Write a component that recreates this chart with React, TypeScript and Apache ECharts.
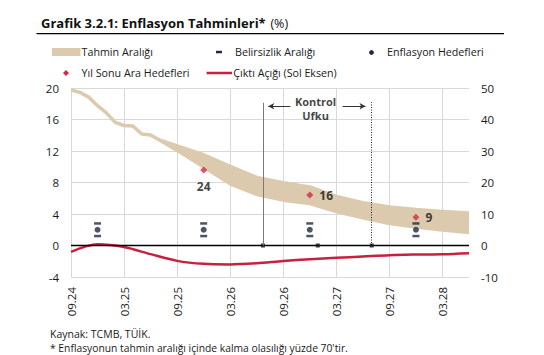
import React, { useEffect, useRef } from 'react';
import * as echarts from 'echarts';

// ---- data ----
const xTickLabels = ['09.24', '03.25', '09.25', '03.26', '09.26', '03.27', '09.27', '03.28'];

// months since 09.24 ; inflation forecast band (right axis, %)
const bandMonths = [0, 1, 2, 3, 4, 5, 6, 7, 8, 9, 10, 12, 15, 18, 21, 24, 27, 30, 33, 36, 39, 42, 45];
const bandLow = [49.4, 48.6, 47.1, 44.4, 42.1, 39.1, 38.1, 37.9, 35.4, 35.1, 33.5, 30.2, 24.9, 19.6, 16.2, 14.4, 13.3, 10.8, 8.8, 7.0, 5.9, 4.9, 4.1];
const bandHigh = [49.4, 48.6, 47.1, 44.4, 42.1, 39.1, 38.1, 37.9, 35.4, 35.1, 33.5, 31.6, 28.8, 25.1, 21.6, 19.9, 18.6, 15.6, 13.6, 12.2, 11.4, 10.8, 10.3];

// output gap (left axis)
const gapMonths = [0, 3, 6, 9, 12, 15, 18, 21, 24, 27, 30, 33, 36, 39, 42, 45];
const gapValues = [-0.8, 0.15, -0.2, -1.1, -1.95, -2.33, -2.4, -2.25, -1.97, -1.75, -1.57, -1.4, -1.23, -1.15, -1.1, -0.97];

// inflation targets with uncertainty range
const targetMonths = [3, 15, 27, 39];
const targetValues = [5, 5, 5, 5];
const uncertaintyLow = [3, 3, 3, 3];
const uncertaintyHigh = [7, 7, 7, 7];

// year-end interim targets
const interimMonths = [15, 27, 39];
const interimValues = [24, 16, 9];

// control horizon (start, middle, end) in months
const controlMonths = [21.7, 27.9, 34];

const FONT = "'Open Sans', sans-serif";
const TAN = '#dccaae';
const RED = '#c8203e';
const DRED = '#d22a40';
const NAVY = '#1e2b45';
const GRID = '#d9d9d9';
const TXT = '#1a1a1a';

export default function App() {
  const ref = useRef<HTMLDivElement>(null);
  useEffect(() => {
    if (!ref.current) return;
    const chart = echarts.init(ref.current, undefined, { renderer: 'svg' });
    const legendText = (text: string, x: number, y: number) => ({
      type: 'text', x, y,
      style: { text, fontSize: 10.7, fontFamily: FONT, fill: TXT, verticalAlign: 'middle', align: 'left' },
    });
    const option: any = {
      animation: false,
      textStyle: { fontFamily: FONT },
      title: {
        left: 36, top: 9,
        text: '{b|Grafik 3.2.1: Enflasyon Tahminleri*} {n|(%)}',
        textStyle: {
          fontWeight: 'normal',
          rich: {
            b: { fontSize: 13, fontWeight: 'bold', color: '#111', fontFamily: FONT },
            n: { fontSize: 12.5, fontWeight: 'normal', color: '#111', fontFamily: FONT },
          },
        },
      },
      grid: { left: 71, right: 75, top: 88, bottom: 78, containLabel: false },
      xAxis: {
        type: 'value', min: 0, max: 45, interval: 6,
        axisLine: { show: false }, axisTick: { show: false },
        splitLine: { show: true, showMaxLine: false, lineStyle: { color: GRID, width: 1 } },
        axisLabel: {
          rotate: 90, margin: 10, fontSize: 11.5, color: TXT, fontFamily: FONT,
          showMaxLabel: false,
          formatter: (v: number) => xTickLabels[Math.round(v / 6)] ?? '',
        },
      },
      yAxis: [
        {
          type: 'value', min: -4, max: 20, interval: 4,
          axisLine: { show: false }, axisTick: { show: false },
          splitLine: { show: true, lineStyle: { color: GRID, width: 1 } },
          axisLabel: { margin: 12, fontSize: 11.5, color: TXT, fontFamily: FONT },
        },
        {
          type: 'value', min: -10, max: 50, interval: 10,
          axisLine: { show: false }, axisTick: { show: false },
          splitLine: { show: false },
          axisLabel: { margin: 12, fontSize: 11.5, color: TXT, fontFamily: FONT },
        },
      ],
      series: [
        {
          name: 'Tahmin Aralığı', type: 'custom', yAxisIndex: 1, z: 2, clip: true,
          encode: { x: 0, y: [1, 2] },
          data: bandMonths.map((m, i) => [m, bandLow[i], bandHigh[i]]),
          renderItem: (params: any, api: any) => {
            if (params.dataIndex !== 0) return null;
            const upper = bandMonths.map((m, i) => api.coord([m, bandHigh[i]]));
            const lower = bandMonths.map((m, i) => api.coord([m, bandLow[i]])).reverse();
            return {
              type: 'polygon',
              shape: { points: upper.concat(lower) },
              style: { fill: TAN, stroke: TAN, lineWidth: 3.5, lineJoin: 'round' },
            };
          },
        },
        {
          name: 'Çıktı Açığı (Sol Eksen)', type: 'line', yAxisIndex: 0, symbol: 'none', smooth: 0.3, z: 3,
          data: gapMonths.map((m, i) => [m, gapValues[i]]),
          lineStyle: { color: RED, width: 2.5 }, itemStyle: { color: RED },
          markLine: {
            silent: true, symbol: ['none', 'none'], label: { show: false },
            lineStyle: { color: '#000', width: 1.3, type: 'solid' },
            data: [{ yAxis: 0 }],
          },
        },
        {
          name: 'Belirsizlik Aralığı', type: 'scatter', yAxisIndex: 1, symbol: 'rect', symbolSize: [7, 2.5], z: 4,
          itemStyle: { color: NAVY },
          data: [
            ...targetMonths.map((m, i) => [m, uncertaintyLow[i]]),
            ...targetMonths.map((m, i) => [m, uncertaintyHigh[i]]),
          ],
        },
        {
          name: 'Enflasyon Hedefleri', type: 'scatter', yAxisIndex: 1, symbol: 'circle', symbolSize: 6, z: 4,
          itemStyle: { color: NAVY },
          data: targetMonths.map((m, i) => [m, targetValues[i]]),
        },
        {
          name: 'Yıl Sonu Ara Hedefleri', type: 'scatter', yAxisIndex: 1, symbol: 'diamond', symbolSize: 7, z: 4,
          itemStyle: { color: DRED },
          label: {
            show: true, fontSize: 12, fontWeight: 'bold', color: '#111', fontFamily: FONT,
            formatter: (p: any) => String(p.value[1]),
          },
          data: interimMonths.map((m, i) => ({
            value: [m, interimValues[i]],
            label: i === 0 ? { position: 'bottom', distance: 7 } : { position: 'right', distance: 6 },
          })),
        },
        {
          name: 'controlDots', type: 'scatter', yAxisIndex: 1, symbol: 'rect', symbolSize: 4, z: 5,
          itemStyle: { color: '#111' },
          data: controlMonths.map((m) => [m, 0]),
        },
        {
          name: 'controlLabel', type: 'scatter', yAxisIndex: 1, symbolSize: 1, z: 5,
          itemStyle: { color: 'rgba(0,0,0,0)' },
          label: {
            show: true, position: 'inside', formatter: 'Kontrol\nUfku',
            fontSize: 11, fontWeight: 'bold', lineHeight: 14.3, color: '#111', fontFamily: FONT,
          },
          data: [[(controlMonths[0] + controlMonths[2]) / 2 - 0.2, 43.5]],
          markLine: {
            silent: true, z: 6, label: { show: false }, symbol: ['none', 'none'],
            data: [
              [
                { coord: [controlMonths[0], 0], lineStyle: { color: '#7a7a7a', width: 1, type: 'solid' } },
                { coord: [controlMonths[0], 45.3] },
              ],
              [
                { coord: [controlMonths[2], 0], lineStyle: { color: '#222', width: 1, type: [1, 1.5] } },
                { coord: [controlMonths[2], 45.5] },
              ],
              [
                { coord: [24.8, 44.2], symbol: 'none', lineStyle: { color: '#333', width: 1, type: 'solid' } },
                { coord: [22.3, 44.2], symbol: 'arrow', symbolSize: [5, 6] },
              ],
              [
                { coord: [30.7, 44.2], symbol: 'none', lineStyle: { color: '#333', width: 1, type: 'solid' } },
                { coord: [33.3, 44.2], symbol: 'arrow', symbolSize: [5, 6] },
              ],
            ],
          },
        },
      ],
      graphic: [
        { type: 'line', shape: { x1: 36.5, y1: 33.7, x2: 504, y2: 33.7 }, style: { stroke: '#000', lineWidth: 1.3 } },
        // legend row 1
        { type: 'rect', shape: { x: 52, y: 48, width: 28.5, height: 8 }, style: { fill: TAN } },
        legendText('Tahmin Aralığı', 81.6, 52),
        { type: 'rect', shape: { x: 216, y: 50.8, width: 6, height: 2.5 }, style: { fill: NAVY } },
        legendText('Belirsizlik Aralığı', 235, 52),
        { type: 'circle', shape: { cx: 371.5, cy: 52.5, r: 2.4 }, style: { fill: NAVY } },
        legendText('Enflasyon Hedefleri', 387, 52),
        // legend row 2
        { type: 'polygon', shape: { points: [[66, 70], [69, 73], [66, 76], [63, 73]] }, style: { fill: DRED } },
        legendText('Yıl Sonu Ara Hedefleri', 81.6, 73),
        { type: 'line', shape: { x1: 206.6, y1: 73, x2: 232, y2: 73 }, style: { stroke: RED, lineWidth: 2.5 } },
        legendText('Çıktı Açığı (Sol Eksen)', 233.3, 73),
        // footer
        { type: 'text', x: 50, y: 334, style: { text: 'Kaynak: TCMB, TÜİK.', fontSize: 10.5, fontFamily: FONT, fill: TXT, verticalAlign: 'middle' } },
        { type: 'text', x: 50, y: 348.3, style: { text: "* Enflasyonun tahmin aralığı içinde kalma olasılığı yüzde 70'tir.", fontSize: 10.3, fontFamily: FONT, fill: TXT, verticalAlign: 'middle' } },
      ],
    };
    chart.setOption(option);
    return () => chart.dispose();
  }, []);
  return <div ref={ref} style={{ position: 'fixed', left: 0, top: 0, width: 544, height: 355, background: '#fff' }} />;
}
